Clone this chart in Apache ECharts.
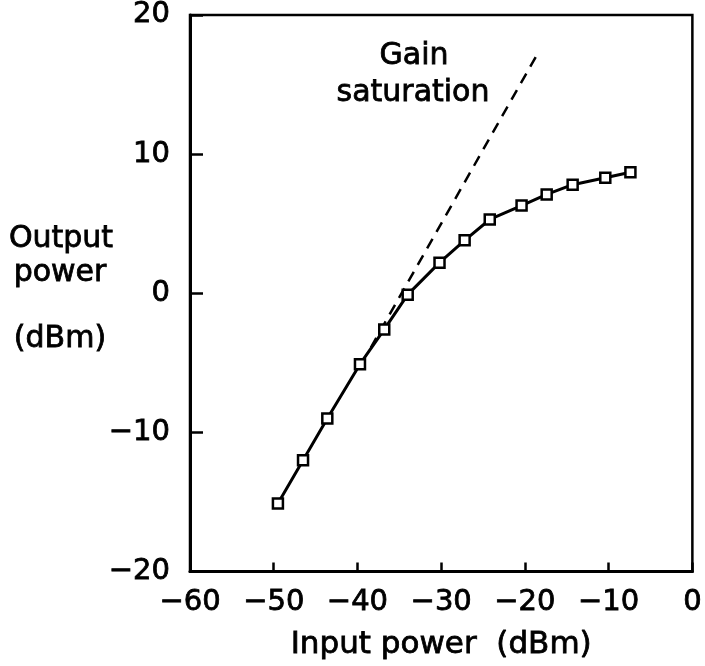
<!DOCTYPE html>
<html>
<head>
<meta charset="utf-8">
<script src="https://cdn.jsdelivr.net/npm/echarts@6/dist/echarts.min.js"></script>
<style>
html,body{margin:0;padding:0;background:#fff;}
#chart{width:705px;height:666px;}
</style>
</head>
<body>
<div id="chart"></div>
<script>
// Measured amplifier response
const inputPower = [-49.5, -46.5, -43.6, -39.7, -36.8, -34.0, -30.2, -27.2, -24.2, -20.4, -17.4, -14.3, -10.4, -7.4];
const outputPower = [-15.1, -12.0, -9.0, -5.1, -2.6, -0.1, 2.2, 3.8, 5.3, 6.3, 7.1, 7.8, 8.3, 8.7];
// Linear (unsaturated) gain extrapolation, dashed
const linearInput = [-38.4, -18.5];
const linearOutput = [-3.9, 17.2];
// Axis tick values
const xTickValues = [-60, -50, -40, -30, -20, -10, 0];
const yTickValues = [-20, -10, 0, 10, 20];

const FONT = 'DejaVu Sans';
const fmt = v => (v < 0 ? '\u2212' + Math.abs(v) : String(v));
const txt = (text, x, y, size) => ({
  type: 'text', x: x, y: y,
  style: {text: text, fontFamily: FONT, fontSize: size || 30, fill: '#000', stroke: '#000', lineWidth: 0.8, align: 'center', verticalAlign: 'middle'}
});

const chart = echarts.init(document.getElementById('chart'), null, {renderer: 'canvas'});
chart.setOption({
  animation: false,
  backgroundColor: '#fff',
  grid: {left: 190, right: 8, top: 14, bottom: 93, show: true, borderColor: '#000', borderWidth: 2.5, backgroundColor: 'transparent'},
  xAxis: {
    type: 'value',
    min: xTickValues[0], max: xTickValues[xTickValues.length - 1], interval: 10,
    axisLine: {show: true, onZero: false, lineStyle: {color: '#000', width: 3}},
    axisTick: {show: true, inside: false, length: -9, lineStyle: {color: '#000', width: 2.5}},
    splitLine: {show: false},
    axisLabel: {color: '#000', fontFamily: FONT, fontSize: 29, margin: 16, formatter: fmt, textBorderColor: '#000', textBorderWidth: 0.8},
    name: 'Input power  (dBm)',
    nameLocation: 'middle',
    nameGap: 58,
    nameTextStyle: {color: '#000', fontFamily: FONT, fontSize: 31, textBorderColor: '#000', textBorderWidth: 0.8},
    z: 10
  },
  yAxis: {
    type: 'value',
    min: yTickValues[0], max: yTickValues[yTickValues.length - 1], interval: 10,
    axisLine: {show: true, onZero: false, lineStyle: {color: '#000', width: 3}},
    axisTick: {show: true, inside: false, length: -13, lineStyle: {color: '#000', width: 2.5}},
    splitLine: {show: false},
    axisLabel: {color: '#000', fontFamily: FONT, fontSize: 29, margin: 20, formatter: fmt, textBorderColor: '#000', textBorderWidth: 0.8},
    z: 10
  },
  graphic: [
    txt('Output', 61, 239),
    txt('power', 60, 273),
    txt('(dBm)', 60, 339),
    txt('Gain', 414, 56),
    txt('saturation', 413, 93)
  ],
  series: [
    {
      type: 'line',
      data: linearInput.map((x, i) => [x, linearOutput[i]]),
      showSymbol: false,
      symbol: 'none',
      lineStyle: {color: '#000', width: 2.5, type: [11, 8]},
      silent: true
    },
    {
      type: 'line',
      data: inputPower.map((x, i) => [x, outputPower[i]]),
      symbol: 'rect',
      symbolSize: 10,
      lineStyle: {color: '#000', width: 3},
      itemStyle: {color: '#fff', borderColor: '#000', borderWidth: 2.5},
      z: 3
    }
  ]
});
</script>
</body>
</html>
